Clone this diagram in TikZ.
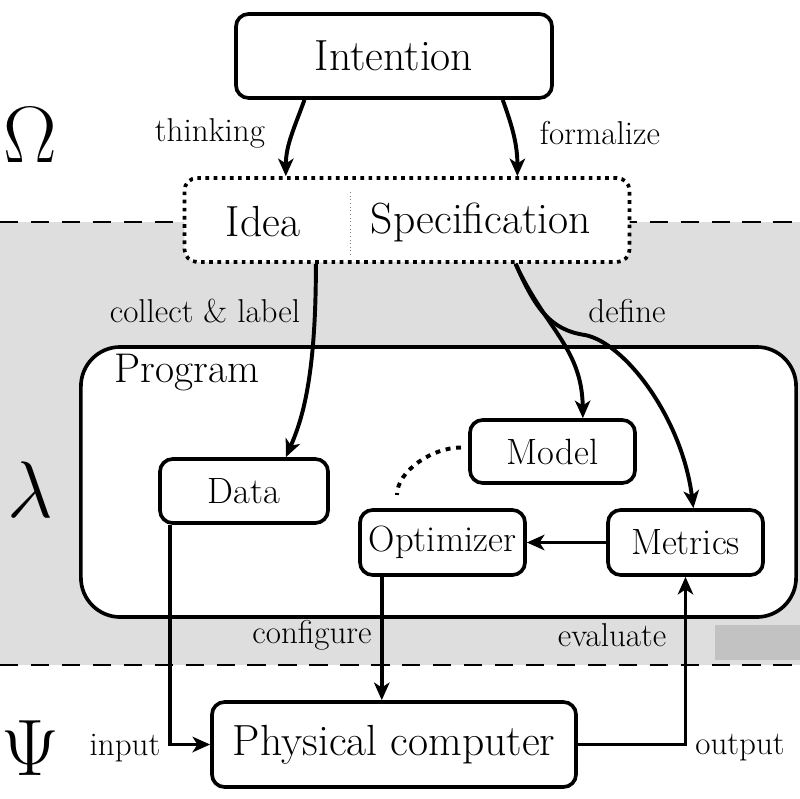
\documentclass[tikz,border=0pt]{standalone}
\usepackage{fix-cm}
\usepackage[no-math]{fontspec}
\usepackage{xcolor}
\usepackage{tikz}
\usetikzlibrary{positioning,calc,arrows.meta,backgrounds}
\definecolor{BandGray}{RGB}{222,222,222}
\definecolor{PatchGray}{RGB}{194,194,194}
\tikzset{
    blocknode/.style={rectangle, draw=black, fill=white, line width=2.6pt, rounded corners=9pt, inner sep=0pt},
    flowarrow/.style={draw=black, line width=2.8pt, -{Stealth[length=12.5pt, width=11pt, inset=3.5pt]}},
    levelline/.style={draw=black, line width=1.3pt, dash pattern=on 13pt off 9pt}
}

\begin{document}
\begin{tikzpicture}[
                x=0.025cm, y=0.025cm,
                bigtext/.style={font=\fontsize{31}{33}\selectfont},
                innertext/.style={font=\fontsize{26}{28}\selectfont},
                edgelabel/.style={font=\fontsize{23.5}{25}\selectfont},
                greeklabel/.style={font=\fontsize{57}{59}\selectfont},
                planbox/.style={
                    rectangle,
                    draw=black,
                    fill=white,
                    line width=2.6pt,
                    dash pattern=on 2.6pt off 3.2pt,
                    rounded corners=9pt,
                    minimum width=11.125cm,
                    minimum height=2.1cm
                },
                dottedlink/.style={draw=black, line width=2.8pt, dash pattern=on 3.5pt off 4pt}
            ]
                \useasboundingbox (0,0) rectangle (800,798);
                % levels
                \fill[BandGray] (0,133) rectangle (800,576);
                \fill[PatchGray] (715,138) rectangle (800,173);
                \draw[levelline] (0,576) -- (800,576);
                \draw[levelline] (0,133) -- (800,133);
                \node[greeklabel] (omega) at (30,663) {$\Omega$};
                \node[greeklabel] (lambda) at (30,308) {$\lambda$};
                \node[greeklabel] (psi) at (30,50) {$\Psi$};

                % boxes
                \node[blocknode, bigtext, minimum width=7.9cm, minimum height=2.1cm] (intent) at (394,742) {Intention};
                \node[planbox] (plan) at (407,578) {};
                \draw[gray, line width=0.6pt, dotted] (350,543) -- (350,608);
                \node[bigtext] (idea) at (263,576) {Idea};
                \node[bigtext] (spec) at (481,576) {Specification};
                \node[blocknode, rounded corners=28pt, minimum width=17.875cm, minimum height=6.75cm] (program) at (438.5,316) {};
                \node[font=\fontsize{29.5}{31}\selectfont] (proglabel) at (187,425) {Program};
                \node[blocknode, innertext, minimum width=4.125cm, minimum height=1.575cm] (model) at (552.5,346.5) {Model};
                \node[blocknode, innertext, minimum width=4.2cm, minimum height=1.6cm] (data) at (244,307) {Data};
                \node[blocknode, innertext, minimum width=4.125cm, minimum height=1.625cm] (optim) at (442.5,255.5) {Optimizer};
                \node[blocknode, innertext, minimum width=3.875cm, minimum height=1.625cm] (metrics) at (685.5,255.5) {Metrics};
                \node[blocknode, bigtext, minimum width=9.1cm, minimum height=2.125cm] (phys) at (394,53.5) {Physical computer};

                % labels
                \node[edgelabel] (thinklabel) at (210,665) {thinking};
                \node[edgelabel] (formlabel) at (600,665) {formalize};
                \node[edgelabel] (collectlabel) at (205,487) {collect \& label};
                \node[edgelabel] (definelabel) at (627,487) {define};
                \node[edgelabel] (configlabel) at (312,163) {configure};
                \node[edgelabel] (evallabel) at (612,163) {evaluate};
                \node[edgelabel] (inputlabel) at (125,50) {input};
                \node[edgelabel] (outputlabel) at (740,50) {output};

                % connectors
                \coordinate (specout) at ($(plan.south west)!0.742!(plan.south east)$);
                \coordinate (branch) at (585,463);
                \draw[flowarrow] ($(intent.south west)!0.22!(intent.south east)$) to[out=-110, in=90] ($(plan.north west)!0.23!(plan.north east)$);
                \draw[flowarrow] ($(intent.south west)!0.84!(intent.south east)$) to[out=-70, in=90] ($(plan.north west)!0.746!(plan.north east)$);
                \draw[flowarrow] ($(plan.south west)!0.297!(plan.south east)$) .. controls (316,420) and (302,378) .. ($(data.north west)!0.744!(data.north east)$);
                \draw[flowarrow] (specout) .. controls (545,470) and (582,450) .. ($(model.north west)!0.68!(model.north east)$);
                \draw[flowarrow] (specout) .. controls (535,490) and (550,468) .. (branch) .. controls (625,455) and (682,380) .. ($(metrics.north west)!0.55!(metrics.north east)$);
                \draw[dottedlink, shorten <=0.18cm, shorten >=0.33cm] ($(model.west)+(0,4)$) to[out=180, in=90] ($(optim.north west)!0.23!(optim.north east)$);
                \draw[flowarrow] (metrics.west) -- (optim.east);
                \draw[flowarrow] ($(data.south west)!0.07!(data.south east)$) |- (phys.west);
                \coordinate (optout) at ($(optim.south west)!0.14!(optim.south east)$);
                \draw[flowarrow] (optout) -- (optout |- phys.north);
                \draw[flowarrow] (phys.east) -| (metrics.south);
            \end{tikzpicture}
\end{document}
